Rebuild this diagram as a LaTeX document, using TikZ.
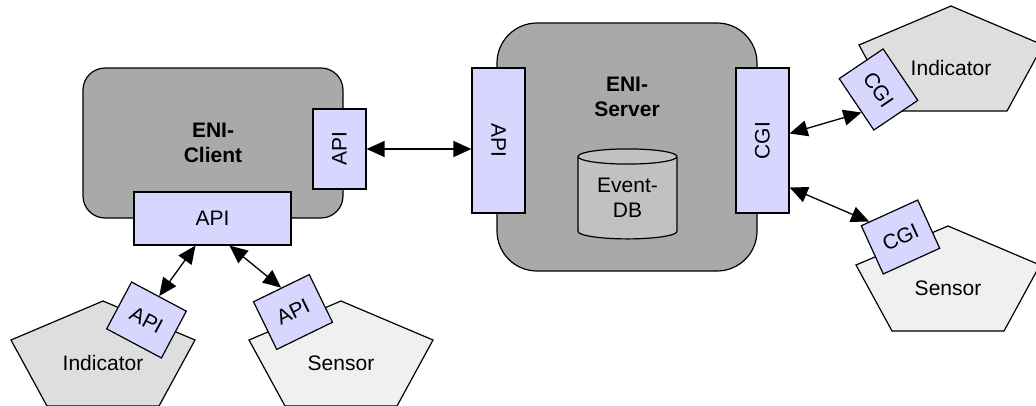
\documentclass[tikz,border=0pt]{standalone}
\usepackage{fontspec}
\setmainfont{Liberation Sans}
\usetikzlibrary{positioning, calc, arrows.meta, shapes.geometric}

\definecolor{hostgray}{RGB}{169,169,169}
\definecolor{ifblue}{RGB}{214,214,255}
\definecolor{dbgray}{RGB}{192,193,192}
\definecolor{indfill}{RGB}{222,222,222}
\definecolor{senfill}{RGB}{240,240,240}

\begin{document}
\begin{tikzpicture}[
		x=1pt, y=-1pt,
		host/.style={rectangle, draw, line width=1.2pt, fill=hostgray, rounded corners=22pt},
		iface/.style={rectangle, draw, line width=1.2pt, fill=ifblue, inner sep=0pt, minimum height=53pt, font=\fontsize{21}{25}\selectfont},
		plug/.style={iface, minimum width=62pt},
		dbase/.style={cylinder, draw, line width=1.2pt, fill=dbgray, shape border rotate=90, aspect=0.25, minimum width=99pt, minimum height=90pt, inner sep=0pt, align=center, font=\fontsize{21}{25}\selectfont},
		mylabel/.style={align=center, font=\fontsize{21}{25}\selectfont},
		boldlabel/.style={align=center, font=\fontsize{21}{25}\selectfont\bfseries},
		link/.style={<->, line width=1.3pt},
		>={Triangle[length=18pt, width=16pt]}
	]
	\useasboundingbox (0,0) rectangle (1036,405);

	% hosts
	\node[host, boldlabel, minimum width=260pt, minimum height=150pt] (client) at (213,143) {ENI-\\Client};
	\node[host, rounded corners=40pt, minimum width=260pt, minimum height=248pt] (srvr) at (627,147) {};
	\node[boldlabel] (srvlabel) at (627,97) {ENI-\\Server};
	\node[dbase] (eventdb) at (627.5,198) {Event-\\DB};

	% interfaces on the hosts
	\node[iface, minimum width=80pt, rotate=90] (cliapi) at (339.5,149) {API};
	\node[iface, minimum width=157pt] (cliapib) at (212.5,218.5) {API};
	\node[iface, minimum width=145pt, rotate=-90] (srvapi) at (498.5,140.5) {API};
	\node[iface, minimum width=145pt, rotate=90] (srvcgi) at (762.5,140.5) {CGI};

	% indicators and sensors
	\foreach \px/\py/\col/\nm/\txt in {103/301/indfill/lind/Indicator, 341/301/senfill/lsen/Sensor, 951/6/indfill/rind/Indicator, 948/226/senfill/rsen/Sensor}
	{
		\draw[line width=1.2pt, fill=\col] (\px,\py) -- ++(92,39) -- ++(-36,66) -- ++(-112,0) -- ++(-36,-66) -- cycle;
		\node[mylabel] (\nm) at (\px,\py+62) {\txt};
	}

	\node[plug, rotate=-28] (indapi) at (146.5,320) {API};
	\node[plug, rotate=26] (senapi) at (293,312) {API};
	\node[plug, rotate=-56] (indcgi) at (878.5,89.5) {CGI};
	\node[plug, rotate=24.5] (sencgi) at (900.5,237) {CGI};

	% connections
	\draw[link] (cliapi.south) -- (cliapi.south -| srvapi.south);
	\draw[link] ([yshift=7pt]srvcgi.south) -- ($(indcgi.south)!0.3!(indcgi.south east)$);
	\draw[link] ([yshift=-47pt]srvcgi.south) -- ($(sencgi.north)!0.7!(sencgi.north west)$);
	\draw[link] ([xshift=-17pt]cliapib.south) -- (indapi.north);
	\draw[link] ([xshift=17pt]cliapib.south) -- (senapi.north);

\end{tikzpicture}
\end{document}
